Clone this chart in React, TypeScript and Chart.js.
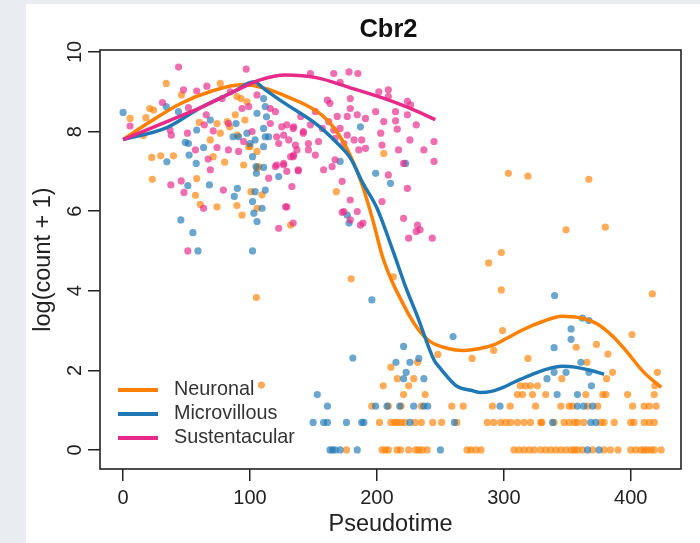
import React, { useEffect, useRef } from 'react';
import { Chart, registerables } from 'chart.js';

Chart.register(...registerables);

const chartTitle = 'Cbr2';
const xAxisTitle = 'Pseudotime';
const yAxisTitle = 'log(count + 1)';
const xTicks = [0, 100, 200, 300, 400];
const yTicks = [0, 2, 4, 6, 8, 10];
const seriesNames = ['Neuronal', 'Microvillous', 'Sustentacular'];
const lineColors = ['rgb(255,127,0)', 'rgb(31,120,180)', 'rgb(231,41,138)'];
const pointColors = ['rgba(255,127,0,0.66)', 'rgba(31,120,180,0.66)', 'rgba(231,41,138,0.68)'];

const neuronalPoints: number[][] = [
  [34, 9.21], [46, 8.92], [5.5, 8.33], [21, 8.58], [24, 8.54], [18, 8.35], [16, 7.9], [60, 8.23], [74, 8.2],
  [76.6, 7.96], [68.7, 7.79], [71, 7.37], [84, 8.12], [88.4, 8.42], [93, 8.83], [90, 7.91], [99, 7.62], [96, 8.29],
  [105.5, 7.5], [22.6, 7.35], [29.7, 7.39], [39.7, 7.39], [80, 7.23], [95, 7.16], [105.5, 7.08], [23, 6.8], [58, 6.82],
  [57, 6.4], [89.7, 6.14], [100.8, 6.49], [60.8, 6.17], [74, 6.11], [93.7, 5.9], [109.5, 6.41], [105.5, 6.07],
  [106.8, 7.12], [76.6, 9.21], [89.7, 8.88], [97.6, 8.75], [82, 8.25], [100, 7.62], [132, 5.65], [168, 6.49],
  [205.4, 7.45], [105, 3.83], [109, 1.63], [179.7, 4.3], [213, 4.35],
  [211, 2.08], [232, 2.2], [216, 1.79], [229, 1.79], [205, 1.61], [225, 1.61], [221, 1.39], [238, 1.39], [275, 2.3],
  [248, 2.4], [292, 2.5], [319, 2.3], [299, 3.0],
  [196, 1.1], [209, 1.1], [219, 1.1], [235, 1.1], [259, 1.1], [268, 1.1], [291, 1.1], [305, 1.1], [325, 1.1],
  [345, 1.1], [351.5, 1.1], [354, 1.1], [366, 1.1], [374, 1.1], [401.5, 1.1], [410.6, 1.1], [414.6, 1.1], [420, 1.1],
  [202, 0.69], [211, 0.69], [214, 0.69], [216, 0.69], [219, 0.69], [222, 0.69], [230, 0.69], [235, 0.69], [244, 0.69],
  [251, 0.69], [263, 0.69], [287, 0.69], [292, 0.69], [297.5, 0.69], [301.5, 0.69], [305.4, 0.69], [310.7, 0.69],
  [316, 0.69], [321, 0.69], [329, 0.69], [330, 0.69], [339.6, 0.69], [347.5, 0.69], [351.5, 0.69], [355.5, 0.69],
  [358, 0.69], [363, 0.69], [376.4, 0.69], [379, 0.69], [387, 0.69], [400, 0.69], [402.5, 0.69], [410.6, 0.69],
  [414.6, 0.69], [418.5, 0.69],
  [176, 0], [204, 0], [206.6, 0], [209, 0], [215.8, 0], [218.6, 0], [225, 0], [230.5, 0], [233, 0], [235.7, 0],
  [239.6, 0], [271, 0], [274, 0], [278, 0], [282, 0], [308, 0], [312, 0], [316, 0], [320, 0], [324, 0], [329, 0],
  [333, 0], [337, 0], [341, 0], [345, 0], [349, 0], [353, 0], [355.6, 0], [358, 0], [362, 0], [370, 0], [379, 0],
  [384, 0], [390, 0], [400, 0], [404, 0], [408, 0], [410.6, 0], [413, 0], [416, 0], [418.5, 0], [424, 0],
  [310.7, 1.39], [314.7, 1.39], [322.6, 1.39], [333, 1.39], [364.6, 1.39], [378, 1.39], [380.4, 1.39], [397.5, 1.39],
  [418.5, 1.39], [313, 1.61], [317, 1.61], [321, 1.61], [326.5, 1.61], [419, 1.61],
  [345.7, 1.79], [381, 1.79], [385.7, 1.95], [421, 1.95],
  [303.6, 6.95], [319, 6.88], [367, 6.8], [349, 5.53], [380, 5.6], [288, 4.7], [298, 4.96], [298, 4.02], [417, 3.92],
  [401, 2.9], [357, 2.58], [373, 2.65], [382, 2.41], [365.5, 2.2],
];

const microvillousPoints: number[][] = [
  [0, 8.48], [34, 8.63], [43.6, 8.5], [68.7, 8.29], [58, 8.04], [49, 7.73], [51.5, 7.7], [63.4, 7.6], [52, 7.41],
  [86.6, 7.87], [89, 8.2], [97.6, 7.96], [100, 7.7], [102, 7.37], [105, 6.95], [34.5, 7.24], [57.6, 7.2], [51, 6.64],
  [68, 6.66], [90, 6.57], [87.6, 6.37], [102, 6.24], [104, 6.49], [45.5, 5.78], [55, 5.46], [59, 5.0], [102, 5.0],
  [110.7, 8.83], [112, 8.63], [113, 8.37], [110.7, 8.08], [112, 7.87], [110.7, 7.62], [122.6, 6.87], [112, 6.53],
  [105.5, 5.74], [105.5, 8.46], [114.7, 7.87], [103, 5.95], [109.5, 6.07], [104.7, 7.12], [110.7, 7.1], [91, 7.87],
  [104, 7.79], [187, 8.12], [222.6, 7.2], [199, 6.95], [210.7, 6.7], [176.6, 5.9], [178, 5.7], [171, 7.25],
  [196, 3.77], [181, 2.31], [260, 2.85], [221, 2.6], [215, 2.2], [226, 2.2], [233, 2.3], [223, 1.95], [221, 1.79],
  [237, 1.79], [153, 1.39], [161, 1.1], [199, 1.1], [208, 1.1], [218, 1.1], [229, 1.1], [237, 1.1], [240, 1.1],
  [297, 1.1],
  [149.7, 0.69], [158, 0.69], [161, 0.69], [176, 0.69], [188, 0.69], [189.7, 0.69], [226, 0.69], [261, 0.69],
  [338.4, 0.69], [368.5, 0.69], [372.5, 0.69],
  [163, 0], [165, 0], [167, 0], [171, 0], [184.5, 0], [250, 0], [366, 0], [375, 0],
  [340, 3.88], [362, 3.31], [367, 3.25], [353, 3.04], [353, 2.78], [339.6, 2.57], [360.7, 2.2], [339.6, 1.95],
  [349, 1.95], [367, 1.95], [334, 1.79], [369, 1.61], [342, 1.39], [358, 1.39], [358, 1.1], [363, 1.1], [370, 1.1],
];

const sustentacularPoints: number[][] = [
  [43.7, 9.62], [97, 9.57], [47.6, 9.05], [58, 9.02], [31, 8.73], [51.5, 8.6], [5.5, 8.14], [38, 7.91], [37, 8.04],
  [65.5, 8.42], [64, 8.17], [71, 8.02], [50.7, 7.96], [57, 7.54], [74, 7.6], [83, 7.54], [99, 8.63], [105.5, 8.92],
  [95, 7.75], [101.6, 8.0], [91, 7.5], [67, 7.31], [68.7, 7.04], [37.6, 6.66], [45.8, 6.76], [48, 6.47], [79, 6.53],
  [63.4, 6.07], [51, 5.0], [66, 9.14], [78, 8.83], [84.5, 9.0], [93.7, 8.58], [83, 8.2],
  [116, 8.58], [120, 8.5], [116, 8.2], [121, 7.87], [125, 8.12], [130.5, 7.79], [134, 8.08], [142, 8.0], [137, 7.54],
  [132, 7.37], [120, 7.12], [126.5, 7.16], [134, 7.37], [138, 7.04], [133, 6.62], [129, 6.11], [122.6, 5.57],
  [134, 5.7],
  [147.6, 9.46], [166, 9.46], [178, 9.5], [185, 9.46], [171, 9.24], [201.5, 9.0], [209, 9.05], [209, 8.88],
  [161, 8.79], [179, 8.83], [163, 8.71], [224, 8.76], [226.5, 8.67], [179, 8.58], [151.5, 8.5], [199, 8.5],
  [214.7, 8.5], [224, 8.42], [168.7, 8.38], [176.6, 8.38], [184.5, 8.42], [191, 8.33], [205.4, 8.25], [231, 8.17],
  [216, 8.06], [203, 7.96], [162, 8.25], [157, 8.08], [166, 8.04], [171, 8.08], [176.6, 7.91], [182, 7.79],
  [188, 7.79], [191, 7.58], [185.7, 7.54], [174, 7.7], [167, 7.83], [147.6, 8.17], [142, 7.96], [134.4, 8.12],
  [129, 8.17], [126.5, 7.91], [135.8, 7.66], [146, 7.7], [154, 7.75], [146, 7.54], [151.5, 7.41], [158, 7.04],
  [164.7, 7.12], [167, 7.29], [134.4, 7.41], [126.5, 7.2], [121, 7.16], [129, 7.0], [138, 7.01], [114.7, 6.83],
  [128, 6.11], [172.6, 6.75], [174, 5.99], [184.5, 5.99], [179, 5.78], [187, 5.65], [209, 6.91], [204, 6.24],
  [221, 7.2], [224, 6.57], [221, 5.82], [232, 5.65], [234, 5.53], [225, 5.32], [243.6, 5.32], [237, 7.54],
  [245, 7.75], [245, 7.25], [226, 7.79], [217, 7.54], [214.7, 8.27], [204, 7.66], [140, 8.38], [122.6, 7.7],
  [179, 6.28], [172.6, 5.97], [189, 5.7], [231, 5.49],
];

const neuronalCurveX = [0, 20, 45, 70, 95, 110, 126, 153, 166, 179, 189, 197, 204, 211, 219, 226, 234, 242, 256, 268, 280, 292, 302, 315, 330, 346, 360, 374, 386, 396, 410, 424];
const neuronalCurveY = [7.8, 8.22, 8.7, 9.02, 9.18, 9.1, 8.92, 8.5, 8.1, 7.4, 6.6, 5.75, 4.9, 4.3, 3.77, 3.35, 2.97, 2.72, 2.55, 2.5, 2.54, 2.64, 2.8, 3.02, 3.22, 3.36, 3.32, 3.16, 2.85, 2.5, 1.96, 1.57];
const microvillousCurveX = [0, 34.5, 61, 87, 103, 112, 126, 153, 169, 179, 189, 200, 213, 222, 232, 245, 250, 263, 274, 282, 290, 300, 308, 321, 334, 346, 356, 368, 379];
const microvillousCurveY = [7.8, 8.1, 8.6, 9.0, 9.25, 9.05, 8.74, 8.17, 7.7, 7.34, 6.7, 6.08, 4.97, 4.15, 3.35, 2.26, 2.05, 1.6, 1.5, 1.44, 1.47, 1.58, 1.7, 1.88, 2.03, 2.1, 2.08, 2.0, 1.9];
const sustentacularCurveX = [0, 34.5, 61, 87, 108, 128, 153, 179, 205, 225, 246];
const sustentacularCurveY = [7.8, 8.25, 8.6, 9.0, 9.3, 9.42, 9.35, 9.1, 8.84, 8.6, 8.3];

const FONT = "'Liberation Sans', Arial, Helvetica, sans-serif";
const TEXT = '#222';

const toXY = (pts: number[][]) => pts.map(([x, y]) => ({ x, y }));
const curve = (xs: number[], ys: number[]) => xs.map((x, i) => ({ x, y: ys[i] }));

const decorPlugin = {
  id: 'decor',
  afterDatasetsDraw(chart: any) {
    const { ctx, chartArea } = chart;
    const { left, top, right, bottom } = chartArea;
    ctx.save();
    ctx.strokeStyle = TEXT;
    ctx.lineWidth = 1.6;
    ctx.strokeRect(left, top, right - left, bottom - top);
    ctx.fillStyle = '#111';
    ctx.font = `bold 25.5px ${FONT}`;
    ctx.textAlign = 'center';
    ctx.textBaseline = 'middle';
    ctx.fillText(chartTitle, (left + right) / 2 - 2, top - 20);
    ctx.font = `19.8px ${FONT}`;
    ctx.textAlign = 'left';
    seriesNames.forEach((name, i) => {
      const y = bottom - 79 + i * 24;
      ctx.strokeStyle = lineColors[i];
      ctx.lineWidth = 4;
      ctx.beginPath();
      ctx.moveTo(left + 18, y);
      ctx.lineTo(left + 58, y);
      ctx.stroke();
      ctx.fillStyle = '#333';
      ctx.fillText(name, left + 74, y);
    });
    ctx.restore();
  },
};

export default function App() {
  const canvasRef = useRef<HTMLCanvasElement | null>(null);

  useEffect(() => {
    const canvas = canvasRef.current;
    if (!canvas) return;
    Chart.defaults.font.family = FONT;
    const pointSets = [neuronalPoints, microvillousPoints, sustentacularPoints];
    const curveSets = [
      curve(neuronalCurveX, neuronalCurveY),
      curve(microvillousCurveX, microvillousCurveY),
      curve(sustentacularCurveX, sustentacularCurveY),
    ];
    const datasets: any[] = [];
    curveSets.forEach((c, i) => {
      datasets.push({
        label: seriesNames[i] + ' fit',
        data: c,
        showLine: true,
        borderColor: lineColors[i],
        borderWidth: 3.5,
        pointRadius: 0,
        cubicInterpolationMode: 'monotone',
        fill: false,
        order: 2 - i,
      });
    });
    pointSets.forEach((p, i) => {
      datasets.push({
        label: seriesNames[i],
        data: toXY(p),
        showLine: false,
        pointRadius: 3.6,
        pointBorderWidth: 0,
        backgroundColor: pointColors[i],
        borderColor: 'transparent',
        order: 10 - i,
      });
    });

    const chart = new Chart(canvas, {
      type: 'scatter',
      data: { datasets },
      options: {
        animation: false,
        responsive: false,
        devicePixelRatio: 1,
        layout: { padding: { top: 46, right: 19, bottom: 0, left: 0 } },
        plugins: { legend: { display: false }, tooltip: { enabled: false }, title: { display: false } },
        scales: {
          x: {
            type: 'linear',
            min: -18.2,
            max: 439.6,
            afterBuildTicks: (s: any) => { s.ticks = xTicks.map((v) => ({ value: v })); },
            afterFit: (s: any) => { s.height = 74; },
            grid: { drawOnChartArea: false, drawTicks: true, tickLength: 12, color: TEXT, lineWidth: 1.5 },
            border: { display: false },
            ticks: { color: TEXT, font: { size: 20 }, padding: 5, maxRotation: 0, autoSkip: false },
            title: { display: true, text: xAxisTitle, color: TEXT, font: { size: 23.5 }, padding: { top: 0, bottom: 4 } },
          },
          y: {
            type: 'linear',
            min: -0.48,
            max: 10.05,
            afterBuildTicks: (s: any) => { s.ticks = yTicks.map((v) => ({ value: v })); },
            afterFit: (s: any) => { s.width = 74; },
            grid: { drawOnChartArea: false, drawTicks: true, tickLength: 12, color: TEXT, lineWidth: 1.5 },
            border: { display: false },
            ticks: { color: TEXT, font: { size: 20 }, padding: 1.5, minRotation: 90, maxRotation: 90, crossAlign: 'center', autoSkip: false },
            title: { display: true, text: yAxisTitle, color: TEXT, font: { size: 23.5 }, padding: { top: 3, bottom: 0 } },
          },
        },
      },
      plugins: [decorPlugin],
    } as any);
    return () => chart.destroy();
  }, []);

  return (
    <div style={{ position: 'fixed', left: 0, top: 0, width: 700, height: 543, background: '#e9edf2', overflow: 'hidden' }}>
      <div style={{ position: 'absolute', left: 26, top: 4, width: 674, height: 539, background: '#ffffff' }}>
        <canvas ref={canvasRef} width={674} height={539} style={{ display: 'block', width: 674, height: 539 }} />
      </div>
    </div>
  );
}
